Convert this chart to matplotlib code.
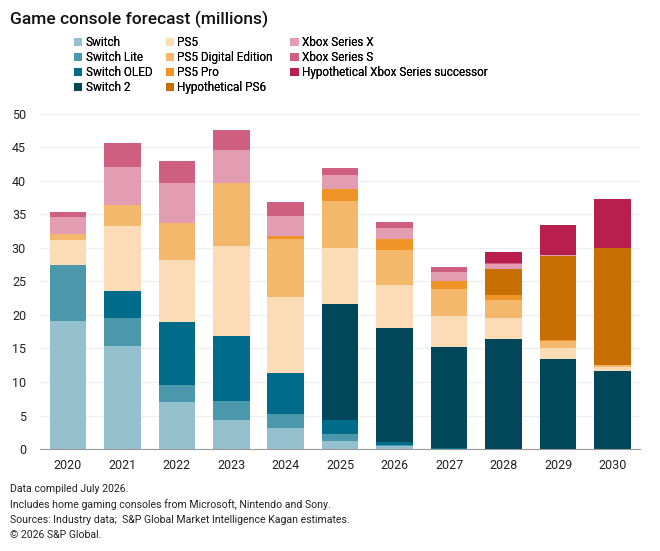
import matplotlib
matplotlib.use("Agg")
import matplotlib.pyplot as plt
from matplotlib.patches import Patch
import numpy as np

plt.rcParams["font.family"] = ["Roboto", "DejaVu Sans"]

years = ["2020", "2021", "2022", "2023", "2024", "2025", "2026", "2027", "2028", "2029", "2030"]

# millions of units per year, per console
switch = [19.1, 15.3, 7.0, 4.3, 3.1, 1.2, 0.4, 0.0, 0.0, 0.0, 0.0]
switch_lite = [8.3, 4.3, 2.5, 2.9, 2.1, 1.0, 0.2, 0.0, 0.0, 0.0, 0.0]
switch_oled = [0.0, 3.9, 9.4, 9.6, 6.2, 2.2, 0.4, 0.1, 0.0, 0.0, 0.0]
switch_2 = [0.0, 0.0, 0.0, 0.0, 0.0, 17.2, 17.1, 15.1, 16.4, 13.4, 11.7]
ps5 = [3.7, 9.7, 9.3, 13.5, 11.3, 8.3, 6.3, 4.6, 3.2, 1.6, 0.5]
ps5_digital = [0.9, 3.2, 5.5, 9.3, 8.6, 7.1, 5.2, 4.0, 2.6, 1.1, 0.4]
ps5_pro = [0.0, 0.0, 0.0, 0.0, 0.4, 1.8, 1.7, 1.3, 0.7, 0.1, 0.0]
ps6 = [0.0, 0.0, 0.0, 0.0, 0.0, 0.0, 0.0, 0.0, 3.9, 12.6, 17.3]
xbox_x = [2.6, 5.6, 5.9, 5.0, 3.1, 2.0, 1.6, 1.3, 0.8, 0.1, 0.0]
xbox_s = [0.7, 3.6, 3.3, 2.9, 2.0, 1.1, 1.0, 0.7, 0.1, 0.0, 0.0]
xbox_next = [0.0, 0.0, 0.0, 0.0, 0.0, 0.0, 0.0, 0.0, 1.7, 4.5, 7.4]

series = [
    ("Switch", switch, "#95c0ce"),
    ("Switch Lite", switch_lite, "#4b97ac"),
    ("Switch OLED", switch_oled, "#016c89"),
    ("Switch 2", switch_2, "#01475a"),
    ("PS5", ps5, "#fcdcb7"),
    ("PS5 Digital Edition", ps5_digital, "#f4b86d"),
    ("PS5 Pro", ps5_pro, "#f09428"),
    ("Hypothetical PS6", ps6, "#c86f03"),
    ("Xbox Series X", xbox_x, "#e29db3"),
    ("Xbox Series S", xbox_s, "#cf5f81"),
    ("Hypothetical Xbox Series successor", xbox_next, "#b81f4f"),
]

fig = plt.figure(figsize=(6.6, 5.51), dpi=100)
ax = fig.add_axes([0.0606, 0.185, 0.909, 0.609])

x = np.arange(len(years))
bottom = np.zeros(len(years))
handles = []
for name, vals, col in series:
    vals = np.array(vals)
    ax.bar(x, vals, width=0.67, bottom=bottom, color=col, linewidth=0, zorder=2)
    bottom += vals
    handles.append(Patch(facecolor=col, label=name))

ax.set_xlim(-0.51, 10.5)
ax.set_ylim(0, 50)
ax.set_yticks(range(0, 51, 5))
ax.set_xticks(x)
ax.set_xticklabels(years)
ax.grid(axis="y", color="#eeeeee", linewidth=0.8, zorder=0)
for side in ("top", "right", "left"):
    ax.spines[side].set_visible(False)
ax.spines["bottom"].set_color("#9a9a9a")
ax.tick_params(axis="both", length=0, labelsize=9, colors="#222222")
ax.tick_params(axis="y", pad=10)
ax.tick_params(axis="x", pad=7)

fig.text(0.015, 0.965, "Game console forecast (millions)", fontsize=12.5,
         fontweight="medium", va="center", ha="left", color="#111111")

# legend in three columns placed like the original (Switch / PS / Xbox)
col_groups = [handles[0:4], handles[4:8], handles[8:11]]
col_x = [0.112, 0.251, 0.440]
for grp, cx in zip(col_groups, col_x):
    leg = fig.legend(handles=grp, ncol=1, loc="upper left", bbox_to_anchor=(cx, 0.934),
                     frameon=False, fontsize=8.5, handlelength=0.7, handleheight=0.7,
                     handletextpad=0.3, labelspacing=0.16, borderpad=0, borderaxespad=0)
    fig.add_artist(leg)

notes = [
    "Data compiled July 2026.",
    "Includes home gaming consoles from Microsoft, Nintendo and Sony.",
    "Sources: Industry data;  S&P Global Market Intelligence Kagan estimates.",
    "\u00a9 2026 S&P Global.",
]
for i, line in enumerate(notes):
    fig.text(0.015, 0.112 - i * 0.0275, line, fontsize=7.6, va="center", ha="left", color="#222222")

fig.savefig("out.png", dpi=100)
